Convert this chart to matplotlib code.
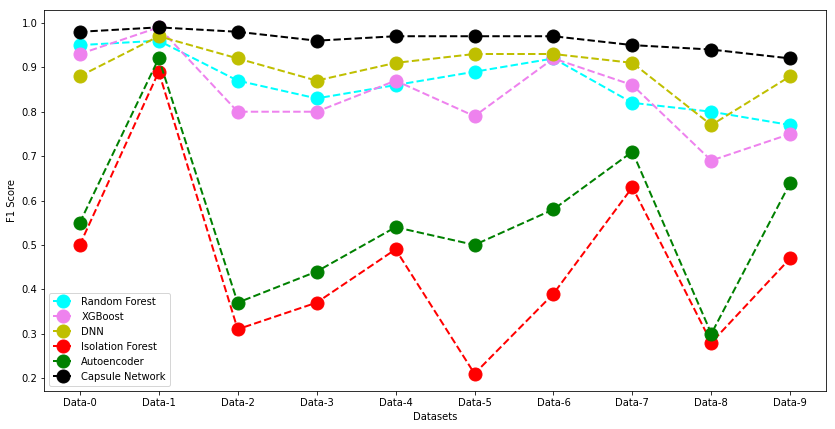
import matplotlib
matplotlib.use("Agg")
import matplotlib.pyplot as plt

datasets = [f"Data-{i}" for i in range(10)]
random_forest = [0.95, 0.96, 0.87, 0.83, 0.86, 0.89, 0.92, 0.82, 0.80, 0.77]
xgboost = [0.93, 0.99, 0.80, 0.80, 0.87, 0.79, 0.92, 0.86, 0.69, 0.75]
dnn = [0.88, 0.97, 0.92, 0.87, 0.91, 0.93, 0.93, 0.91, 0.77, 0.88]
isolation_forest = [0.50, 0.89, 0.31, 0.37, 0.49, 0.21, 0.39, 0.63, 0.28, 0.47]
autoencoder = [0.55, 0.92, 0.37, 0.44, 0.54, 0.50, 0.58, 0.71, 0.30, 0.64]
capsule = [0.98, 0.99, 0.98, 0.96, 0.97, 0.97, 0.97, 0.95, 0.94, 0.92]

series = [
    ("Random Forest", random_forest, "cyan"),
    ("XGBoost", xgboost, "violet"),
    ("DNN", dnn, "y"),
    ("Isolation Forest", isolation_forest, "red"),
    ("Autoencoder", autoencoder, "green"),
    ("Capsule Network", capsule, "black"),
]

plt.rcParams['font.family'] = ['DejaVu Sans']
fig = plt.figure(figsize=(835/72, 429/72), dpi=72)
ax = fig.add_axes([0.053, 0.0886, 0.936, 0.888])
x = list(range(len(datasets)))
for name, vals, c in series:
    ax.plot(x, vals, linestyle='--', marker='o', color=c, markersize=13, linewidth=2, label=name)
ax.set_xticks(x)
ax.set_xticklabels(datasets)
ax.set_xlabel("Datasets", fontsize=10)
ax.set_ylabel("F1 Score", fontsize=10)
ax.tick_params(labelsize=10)
ax.legend(loc='lower left', fontsize=10)
fig.savefig("out.png", dpi=72)
